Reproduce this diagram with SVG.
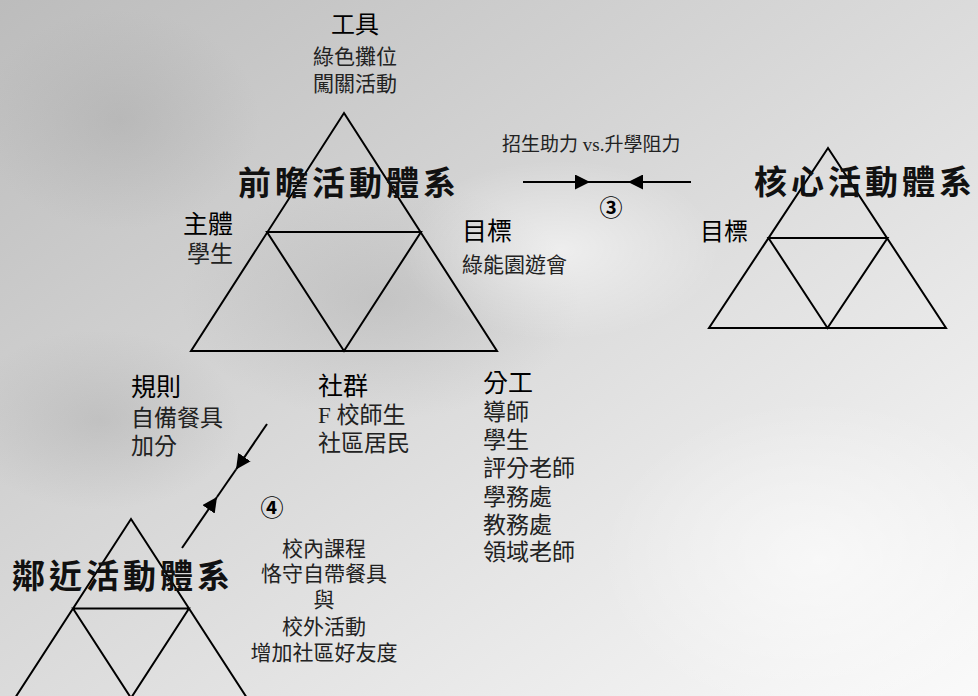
<svg xmlns="http://www.w3.org/2000/svg" width="978" height="696" viewBox="0 0 978 696">
<defs>
<linearGradient id="bg" x1="0" y1="0" x2="1" y2="1">
<stop offset="0" stop-color="#bcbcbc"/>
<stop offset="0.45" stop-color="#d8d8d8"/>
<stop offset="1" stop-color="#fafafa"/>
</linearGradient>
<radialGradient id="spot" cx="0.5" cy="0.5" r="0.5">
<stop offset="0" stop-color="#ffffff" stop-opacity="0.55"/>
<stop offset="1" stop-color="#ffffff" stop-opacity="0"/>
</radialGradient>
<radialGradient id="dark" cx="0.5" cy="0.5" r="0.5">
<stop offset="0" stop-color="#9a9a9a" stop-opacity="0.3"/>
<stop offset="1" stop-color="#9a9a9a" stop-opacity="0"/>
</radialGradient>
<marker id="ah" viewBox="0 0 15 15" refX="15" refY="7.5" markerWidth="15" markerHeight="15" markerUnits="userSpaceOnUse" orient="auto">
<path d="M0,0 L15,7.5 L0,15 z" fill="#000"/>
</marker>
</defs>
<style>
.tri{fill:none;stroke:#000;stroke-width:2;stroke-linejoin:miter}
.con{fill:none;stroke:#000;stroke-width:2}
.title{font-family:"Noto Sans CJK TC","Noto Sans CJK SC",sans-serif;font-weight:bold;font-size:33px;letter-spacing:4px;fill:#111}
.head{font-family:"Liberation Serif","Noto Sans CJK TC",serif;font-size:25px;fill:#000}
.item{font-family:"Liberation Serif","Noto Sans CJK TC",serif;font-size:23px;fill:#222}
.small{font-family:"Liberation Serif","Noto Sans CJK TC",serif;font-size:21px;fill:#222}
.num{font-family:"Noto Sans CJK TC",sans-serif;font-weight:bold;font-size:23px;fill:#000}
</style>
<rect x="0" y="0" width="978" height="696" fill="url(#bg)"/>
<ellipse cx="120" cy="120" rx="140" ry="110" fill="url(#dark)"/>
<ellipse cx="380" cy="300" rx="200" ry="120" fill="url(#dark)"/>
<ellipse cx="100" cy="420" rx="140" ry="90" fill="url(#dark)"/>
<ellipse cx="820" cy="560" rx="220" ry="160" fill="url(#spot)"/>
<ellipse cx="560" cy="250" rx="160" ry="90" fill="url(#spot)"/>

<g id="connectors">
<path class="con" d="M523,182 L590,182" marker-end="url(#ah)"/>
<path class="con" d="M590,182 L628,182"/>
<path class="con" d="M691,182 L628,182" marker-end="url(#ah)"/>
<text class="num" x="611" y="216" text-anchor="middle">③</text>
<text class="small" x="502" y="151" style="font-size:19px">招生助力 vs.升學阻力</text>
<path class="con" d="M267,424 L236,469.5" marker-end="url(#ah)"/>
<path class="con" d="M236,469.5 L217,497"/>
<path class="con" d="M182,548 L217,497" marker-end="url(#ah)"/>
<text class="num" x="272" y="516" text-anchor="middle">④</text>
<g id="arrow4-label" text-anchor="middle">
<text class="small" x="324" y="556">校內課程</text>
<text class="small" x="324" y="581">恪守自帶餐具</text>
<text class="small" x="324" y="607">與</text>
<text class="small" x="324" y="634">校外活動</text>
<text class="small" x="324" y="660">增加社區好友度</text>
</g>
</g>

<g id="forward-system">
<path class="tri" d="M344,113 L497,351 L191,351 Z M267,232 L421,232 L344,351 Z"/>
<text class="title" x="238" y="195">前瞻活動體系</text>
</g>
<g id="tool" text-anchor="middle">
<text class="head" x="355" y="33" style="font-size:24px">工具</text>
<text class="small" x="355" y="64">綠色攤位</text>
<text class="small" x="355" y="91">闖關活動</text>
</g>
<g id="subject" text-anchor="end">
<text class="head" x="233" y="233">主體</text>
<text class="item" x="233" y="262">學生</text>
</g>
<g id="object">
<text class="head" x="462" y="240">目標</text>
<text class="small" x="462" y="272">綠能園遊會</text>
</g>
<g id="rules">
<text class="head" x="131" y="396">規則</text>
<text class="item" x="131" y="426">自備餐具</text>
<text class="item" x="131" y="454">加分</text>
</g>
<g id="community">
<text class="head" x="318" y="395">社群</text>
<text class="item" x="318" y="423">F 校師生</text>
<text class="item" x="318" y="451">社區居民</text>
</g>
<g id="division">
<text class="head" x="483" y="392">分工</text>
<text class="item" x="483" y="420">導師</text>
<text class="item" x="483" y="448">學生</text>
<text class="item" x="483" y="476">評分老師</text>
<text class="item" x="483" y="505">學務處</text>
<text class="item" x="483" y="533">教務處</text>
<text class="item" x="483" y="560">領域老師</text>
</g>

<g id="core-system">
<path class="tri" d="M828,148 L946,328 L709,328 Z M768.5,238 L887.5,238 L827.5,328 Z"/>
<text class="title" x="754" y="194">核心活動體系</text>
<text class="head" x="700" y="240" style="font-size:24px">目標</text>
</g>

<g id="neighbor-system">
<path class="tri" d="M131,519 L247,698 L15,698 Z M73,608.5 L189,608.5 L131,698 Z"/>
<text class="title" x="12" y="588">鄰近活動體系</text>
</g>
</svg>
